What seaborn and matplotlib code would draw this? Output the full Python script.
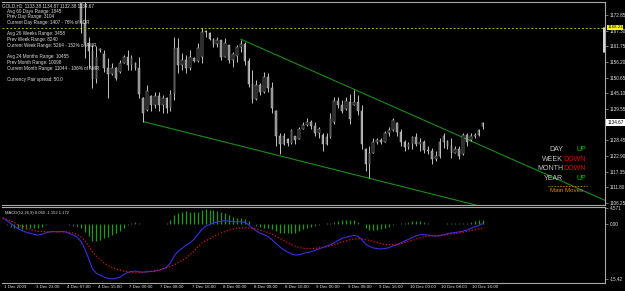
import numpy as np
import pandas as pd
import seaborn as sns
import matplotlib
matplotlib.use("Agg")
import matplotlib.pyplot as plt
from matplotlib.lines import Line2D
import matplotlib.transforms as mtransforms

# ---------------- data ----------------
opens = [1214, 1211, 1208, 1205, 1203, 1204, 1205, 1206, 1207, 1208,
         1209, 1210, 1211, 1209, 1206, 1204, 1202, 1200, 1197, 1192,
         1185, 1170, 1163, 1160, 1150, 1160.5, 1159, 1154, 1152, 1154,
         1152.5, 1156, 1158, 1155, 1156, 1154, 1143.5, 1139.2, 1144, 1141,
         1144, 1141, 1143.5, 1140, 1145, 1161, 1155, 1157, 1154, 1157.5,
         1156.5, 1158, 1167, 1166.5, 1164.5, 1162.5, 1164, 1158, 1162.2, 1157,
         1158.5, 1161.5, 1162.5, 1156.5, 1148.5, 1143, 1148, 1145.5, 1151, 1147,
         1139, 1130, 1127, 1129, 1127.5, 1130, 1129, 1132.5, 1134, 1135,
         1133.5, 1131, 1130.5, 1127, 1129.5, 1135, 1142.5, 1141, 1139.5, 1142,
         1141, 1142, 1139, 1125.5, 1120, 1124, 1128, 1128.5, 1128, 1131,
         1132, 1134.5, 1131.5, 1128, 1126, 1127, 1129.5, 1127, 1128, 1125,
         1124.5, 1122, 1123, 1128, 1128.2, 1126.5, 1124, 1125.5, 1123.5, 1130.5,
         1128.5, 1130, 1130.5, 1133.38]
highs = [1216, 1213, 1210, 1207, 1206, 1207, 1208, 1209, 1210, 1211,
         1212, 1213, 1213, 1211, 1208, 1206, 1204, 1202, 1199, 1194,
         1190, 1178, 1165, 1162.2, 1162, 1161.2, 1160.4, 1157.5, 1155.8, 1154.3,
         1156.8, 1158.6, 1160.4, 1158.6, 1156.1, 1157.9, 1143.7, 1147.9, 1144.4, 1145.5,
         1145.5, 1144.4, 1143.7, 1146.2, 1165, 1164.7, 1159.3, 1158.6, 1160.4, 1157.9,
         1162.9, 1168.2, 1167.5, 1166.8, 1164.7, 1165, 1164, 1164.7, 1162.2, 1159.7,
         1162.2, 1164, 1163.3, 1157.5, 1153.3, 1149.7, 1148.6, 1152.6, 1152.2, 1149,
         1139.3, 1130.9, 1130.9, 1129.1, 1132.6, 1130.1, 1133, 1134.8, 1136.2, 1135.5,
         1134.8, 1133, 1130.9, 1130.9, 1138, 1143.7, 1143.7, 1142.6, 1143.7, 1145,
         1146.2, 1144.4, 1140.8, 1125.9, 1126.6, 1129.4, 1129.4, 1129.1, 1131.9, 1133,
         1136.2, 1134.8, 1132.6, 1128.4, 1127.7, 1130.1, 1130.9, 1129.1, 1128.4, 1126.6,
         1125.9, 1124.8, 1129.4, 1131.2, 1128.4, 1129.1, 1126.6, 1126.6, 1131.2, 1131.2,
         1130.9, 1130.9, 1132.6, 1134.87]
lows = [1209, 1206, 1203, 1201, 1200, 1202, 1203, 1204, 1205, 1206,
        1207, 1208, 1207, 1205, 1203, 1200, 1198, 1195, 1190, 1182,
        1166.4, 1157.5, 1154, 1146.9, 1148.6, 1159.8, 1152.6, 1143.3, 1151.5, 1149.7,
        1152.2, 1155.8, 1153.3, 1153.3, 1153.3, 1143.3, 1134.8, 1139, 1139, 1139.8,
        1139, 1138, 1138.3, 1139, 1142.6, 1152.2, 1153.3, 1152.2, 1153.3, 1156.1,
        1156.1, 1155.8, 1165, 1164, 1161.5, 1161.5, 1156.8, 1157.9, 1155.8, 1154.3,
        1156.1, 1159.7, 1155.1, 1147.2, 1141.5, 1142.8, 1144.4, 1145.3, 1145.5, 1138,
        1126.6, 1123.7, 1126.8, 1126.6, 1127.3, 1127.3, 1128.8, 1132.3, 1133.7, 1132.6,
        1130.1, 1129.1, 1124.8, 1126.8, 1129.1, 1134.4, 1139.8, 1138, 1139.3, 1134.4,
        1140.8, 1137.3, 1125.5, 1117.7, 1115.2, 1123.8, 1127.3, 1127.3, 1127.8, 1130.1,
        1131.8, 1130.1, 1126.6, 1124.8, 1125.5, 1125.5, 1126.6, 1124.8, 1124.1, 1123.7,
        1120.2, 1121.3, 1122.3, 1125.9, 1125.5, 1122.3, 1123.8, 1122, 1123.3, 1126.6,
        1128.2, 1129.4, 1130.1, 1132.38]
closes = [1211, 1208, 1205, 1203, 1204, 1205, 1206, 1207, 1208, 1209,
          1210, 1211, 1209, 1206, 1204, 1202, 1200, 1197, 1192, 1185,
          1170, 1163, 1160, 1150, 1158, 1160.8, 1154, 1152, 1154, 1150.5,
          1156, 1158, 1155, 1157.5, 1154, 1145, 1138, 1146, 1141, 1144,
          1141, 1143.5, 1140, 1145, 1161, 1155, 1157, 1154, 1158, 1156.5,
          1161, 1167, 1166.8, 1164.5, 1162.5, 1164, 1158, 1163, 1157, 1159,
          1161.5, 1162.5, 1156.5, 1148.5, 1143, 1148, 1145.5, 1151, 1147, 1140,
          1130, 1127, 1130, 1127.5, 1132, 1128.5, 1132.5, 1134, 1135, 1133.5,
          1131, 1132.5, 1127, 1129.5, 1136.5, 1142.5, 1141, 1139, 1142.5, 1136,
          1142, 1139, 1127, 1120, 1124, 1128, 1128.5, 1128, 1131, 1132,
          1135.5, 1131.5, 1128, 1126, 1127, 1129.5, 1127, 1128, 1125, 1124.5,
          1122, 1123, 1128, 1130, 1126.5, 1124, 1125.5, 1123, 1130.5, 1128,
          1130, 1130.5, 1132, 1134.67]

macd_main = [1.7, 1.0, 0.2, -0.6, -1.4, -1.9, -2.3, -2.6, -2.9, -3.1,
             -2.9, -2.5, -2.2, -2.1, -2.2, -2.1, -2.2, -2.6, -3.1, -3.6,
             -4.8, -6.9, -9.6, -12.6, -13.8, -14.4, -14.9, -15.2, -15.42, -15.2,
             -14.9, -14.2, -13.6, -13.3, -13.2, -13.4, -13.5, -13.4, -13.3, -13.2,
             -13.0, -12.6, -12.1, -10.9, -8.9, -7.6, -6.8, -5.9, -5.3, -4.3,
             -2.9, -1.6, -0.6, -0.2, 0.3, 0.6, 0.8, 0.9, 0.8, 0.7,
             0.6, 0.7, 0.5, -0.2, -1.2, -1.9, -2.6, -3.0, -3.5, -4.4,
             -5.4, -6.4, -7.2, -7.8, -8.4, -8.7, -8.6, -8.3, -8.0, -7.8,
             -7.4, -7.0, -6.6, -6.2, -5.8, -5.2, -4.6, -4.0, -3.7, -3.4,
             -3.2, -3.4, -4.3, -5.6, -6.3, -6.7, -6.9, -7.0, -6.9, -6.6,
             -6.2, -5.8, -5.3, -4.8, -4.3, -3.8, -3.3, -3.0, -3.0, -3.1,
             -3.3, -3.4, -3.3, -3.0, -2.7, -2.5, -2.4, -2.2, -2.0, -1.7,
             -1.2, -0.8, -0.4, 0.06]
macd_signal = [1.7, 1.3, 0.9, 0.4, -0.2, -0.6, -1.0, -1.5, -1.8, -2.0,
               -2.1, -2.2, -2.2, -2.2, -2.2, -2.2, -2.2, -2.3, -2.5, -2.9,
               -3.6, -4.6, -6.1, -7.8, -9.0, -10.0, -10.9, -11.6, -12.2, -12.6,
               -12.9, -13.2, -13.4, -13.6, -13.7, -13.6, -13.5, -13.4, -13.3, -13.1,
               -12.9, -12.6, -12.3, -11.9, -11.4, -10.8, -10.2, -9.5, -8.6, -7.6,
               -6.4, -5.4, -4.7, -4.2, -3.5, -3.0, -2.5, -2.1, -1.7, -1.4,
               -1.2, -1.1, -1.0, -1.1, -1.2, -1.4, -1.7, -2.0, -2.4, -2.9,
               -3.4, -4.0, -4.6, -5.2, -5.8, -6.2, -6.6, -6.8, -6.9, -6.9,
               -6.8, -6.7, -6.6, -6.4, -6.1, -5.8, -5.4, -5.0, -4.7, -4.4,
               -4.2, -4.1, -4.2, -4.4, -4.6, -4.9, -5.2, -5.5, -5.7, -5.8,
               -5.8, -5.7, -5.5, -5.2, -4.9, -4.6, -4.2, -3.9, -3.6, -3.4,
               -3.3, -3.3, -3.2, -3.1, -3.0, -2.8, -2.7, -2.5, -2.3, -2.1,
               -1.8, -1.6, -1.4, -1.152]
macd_hist = [0.0, -0.3, -0.7, -1.0, -1.2, -1.3, -1.3, -1.1, -1.1, -1.1,
             -0.8, -0.3, 0.0, 0.1, 0.0, 0.1, 0.0, -0.3, -0.6, -0.7,
             -1.2, -2.3, -3.5, -4.8, -4.8, -4.4, -4.0, -3.6, -3.2, -2.6,
             -2.0, -1.0, -0.2, 0.3, 0.5, 0.2, 0.0, 0.0, 0.0, -0.1,
             -0.1, 0.0, 0.2, 1.0, 2.5, 3.2, 3.4, 3.6, 3.3, 3.3,
             3.5, 3.8, 4.1, 4.0, 3.8, 3.6, 3.3, 3.0, 2.5, 2.1,
             1.8, 1.8, 1.5, 0.9, 0.0, -0.5, -0.9, -1.0, -1.1, -1.5,
             -2.0, -2.4, -2.6, -2.6, -2.6, -2.5, -2.0, -1.5, -1.1, -0.9,
             -0.6, -0.3, 0.0, 0.2, 0.3, 0.6, 0.8, 1.0, 1.0, 1.0,
             1.0, 0.7, -0.1, -1.2, -1.7, -1.8, -1.7, -1.5, -1.2, -0.8,
             -0.4, -0.1, 0.2, 0.4, 0.6, 0.8, 0.9, 0.9, 0.6, 0.3,
             0.0, -0.1, -0.1, 0.1, 0.3, 0.3, 0.3, 0.3, 0.3, 0.4,
             0.6, 0.8, 1.0, 1.172]

time_labels = ["1 Dec 2009", "3 Dec 23:00", "4 Dec 07:00", "4 Dec 15:00",
               "7 Dec 00:00", "7 Dec 08:00", "7 Dec 16:00", "8 Dec 00:00",
               "8 Dec 08:00", "8 Dec 16:00", "9 Dec 00:00", "9 Dec 08:00",
               "9 Dec 16:00", "10 Dec 00:00", "10 Dec 08:00", "10 Dec 16:00"]
time_label_bars = [0, 8, 16, 24, 32, 40, 48, 56, 64, 72, 80, 88, 96, 104, 112, 120]

# 1134.00 sits under the current-price box in the reference, so it is not shown
price_ticks = [1172.85, 1167.30, 1161.75, 1156.20, 1150.65, 1145.10, 1139.55,
               1128.45, 1122.90, 1117.35, 1111.80, 1106.25]
macd_ticks = [4.571, 0.0, -15.42]
macd_tick_labels = ["4.571", "0.00", "-15.42"]

hline_price = 1168.23
last_price = 1134.67

upper_trend_bars = [61, 154.4]
upper_trend_prices = [1164.3, 1107.2]
lower_trend_bars = [36, 130]
lower_trend_prices = [1135.1, 1102.5]

header = "GOLD,H1  1133.38 1134.87 1132.38 1134.67"
info_lines = ["Avg 60 Days Range: 1845", "Prev Day Range: 3104",
              "Current Day Range: 1407 - 76% of ADR",
              "Avg 26 Weeks Range: 3458", "Prev Week Range: 8240",
              "Current Week Range: 5264 - 152% of AWR",
              "Avg 24 Months Range: 10455", "Prev Month Range: 10098",
              "Current Month Range: 11044 - 106% of AMR",
              "Currency Pair spread: 50.0"]
info_y_px = [11, 16.7, 22.3, 34, 40, 45.3, 56.7, 62.3, 68.3, 80]

trend_names = ["DAY", "WEEK", "MONTH", "YEAR"]
trend_values = ["UP", "DOWN", "DOWN", "UP"]
trend_y_px = [149.3, 159.3, 169, 179]
macd_title = "MACD(12,26,9) 0.060 -1.152 1.172"

# ---------------- style ----------------
sns.set_style("dark", {"axes.facecolor": "black", "figure.facecolor": "black"})
plt.rcParams["font.family"] = ["Liberation Sans", "DejaVu Sans"]

W, H = 625, 291
fig = plt.figure(figsize=(W / 100, H / 100), dpi=100, facecolor="black")
ax1 = fig.add_axes([2 / W, 1 - 205 / H, 603 / W, 203 / H])
ax2 = fig.add_axes([2 / W, 1 - 283 / H, 603 / W, 76 / H])

frame = "#a8a8a8"
txt = "#e0e0e0"
XMIN, XMAX = -0.2, 154.4

df = pd.DataFrame({"bar": np.arange(len(opens)), "open": opens, "high": highs,
                   "low": lows, "close": closes})
up = df["close"] >= df["open"]
body_lo = np.minimum(df["open"], df["close"])
body_h = np.maximum(np.abs(df["close"] - df["open"]), 0.3)

# candles
ax1.vlines(df["bar"], df["low"], df["high"], color="#d0d0d0", lw=0.65, zorder=2)
ax1.bar(df["bar"][up], body_h[up], bottom=body_lo[up], width=0.42,
        color="black", edgecolor="#c0c0c0", linewidth=0.35, zorder=3)
ax1.bar(df["bar"][~up], body_h[~up], bottom=body_lo[~up], width=0.42,
        color="#8c8c8c", edgecolor="#c0c0c0", linewidth=0.35, zorder=3)

# trend lines and horizontal line
ax1.plot(upper_trend_bars, upper_trend_prices, color="#1a8c1a", lw=0.8, zorder=1)
ax1.plot(lower_trend_bars, lower_trend_prices, color="#1a8c1a", lw=0.8, zorder=1)
ax1.axhline(hline_price, color="#b4b400", lw=0.7, ls=(0, (2, 2)), zorder=1)

ax1.set_xlim(XMIN, XMAX)
ax1.set_ylim(1105.54, 1177.455)
ax1.set_xticks([])
ax1.yaxis.tick_right()
ax1.set_yticks(price_ticks)
ax1.set_yticklabels([f"{v:.2f}" for v in price_ticks])
ax1.tick_params(axis="y", colors=frame, labelsize=3.3, length=2, width=0.5,
                pad=1.2, direction="out")
for lab in ax1.get_yticklabels():
    lab.set_color(txt)
ax1.spines["left"].set_visible(False)
for s in ["top", "right", "bottom"]:
    ax1.spines[s].set_color(frame)
    ax1.spines[s].set_linewidth(0.8)
ax1.grid(False)

# price boxes on the right axis
bt = mtransforms.blended_transform_factory(ax1.transAxes, ax1.transData)
ax1.text(1.004, hline_price + 0.25, f"{hline_price:.2f}", transform=bt, fontsize=3.2,
         color="black", ha="left", va="center", clip_on=False, zorder=10,
         bbox=dict(fc="#ffff00", ec="none", boxstyle="square,pad=0.08"))
ax1.text(1.004, last_price, f"{last_price:.2f}", transform=bt, fontsize=3.3,
         color="black", ha="left", va="center", clip_on=False, zorder=10,
         bbox=dict(fc="white", ec="none", boxstyle="square,pad=0.2"))
ax1.plot([0.998, 0.998], [hline_price, 1159.7], transform=bt, color="white",
         lw=1.2, clip_on=False, zorder=6)

# ---------------- MACD ----------------
hist = np.array(macd_hist)
cols = ["#1f9a1f" if abs(h) >= 0.8 else "#3a6262" for h in hist]
ax2.vlines(df["bar"], 0, hist, colors=cols, lw=0.9, zorder=2)
sns.lineplot(x=df["bar"], y=macd_main, ax=ax2, color="#3d2ee6", lw=0.8, zorder=3)
sns.lineplot(x=df["bar"], y=macd_signal, ax=ax2, color="#d41818", lw=0.9,
             linestyle=(0, (1, 1.5)), zorder=4)
ax2.set_xlim(XMIN, XMAX)
ax2.set_ylim(-16.54, 4.77)
ax2.set_xlabel("")
ax2.set_ylabel("")
ax2.yaxis.tick_right()
ax2.set_yticks(macd_ticks)
ax2.set_yticklabels(macd_tick_labels)
ax2.tick_params(axis="y", colors=frame, labelsize=3.3, length=2, width=0.5, pad=1.2)
for lab in ax2.get_yticklabels():
    lab.set_color(txt)
ax2.set_xticks(time_label_bars)
ax2.set_xticklabels(time_labels)
ax2.tick_params(axis="x", colors=frame, labelsize=3.2, length=2.2, width=0.5,
                pad=-1.0, direction="out")
off = mtransforms.ScaledTranslation(1.6 / 100, 0, fig.dpi_scale_trans)
for lab in ax2.get_xticklabels():
    lab.set_horizontalalignment("left")
    lab.set_color(txt)
    lab.set_transform(lab.get_transform() + off)
ax2.spines["left"].set_visible(False)
for s in ["top", "right", "bottom"]:
    ax2.spines[s].set_color(frame)
    ax2.spines[s].set_linewidth(0.8)
ax2.grid(False)
ax2.text(3 / 603, 1 - 6 / 76, macd_title, transform=ax2.transAxes, fontsize=3.0,
         color=txt, ha="left", va="center", zorder=10)

# ---------------- info texts ----------------
fig.text(2 / W, 1 - 5.3 / H, header, fontsize=3.3, color=txt, ha="left", va="center")
for s, y in zip(info_lines, info_y_px):
    fig.text(7 / W, 1 - y / H, s, fontsize=3.3, color=txt, ha="left", va="center")

for name, val, y in zip(trend_names, trend_values, trend_y_px):
    fig.text(563 / W, 1 - y / H, name, fontsize=5, color="#c4c4c4",
             ha="right", va="center")
    fig.text(586 / W, 1 - y / H, val, fontsize=5,
             color="#00c800" if val == "UP" else "#e00000", ha="right", va="center")
fig.add_artist(Line2D([548 / W, 587 / W], [1 - 186 / H, 1 - 186 / H],
                      transform=fig.transFigure, color="#c87808", lw=0.6,
                      ls=(0, (2, 1.5))))
fig.text(566.5 / W, 1 - 190.5 / H, "Main Moves", fontsize=4.4, color="#d8860c",
         ha="center", va="center")

fig.savefig("out.png", dpi=100, facecolor="black")
